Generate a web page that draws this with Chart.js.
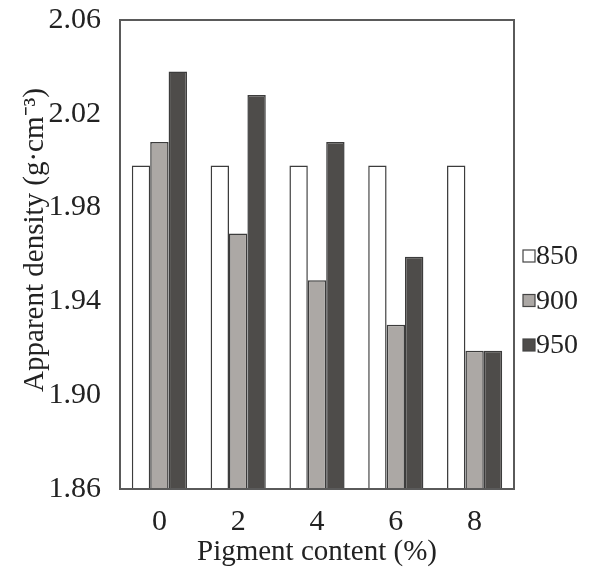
<!DOCTYPE html>
<html>
<head>
<meta charset="utf-8">
<script src="https://cdn.jsdelivr.net/npm/chart.js@4/dist/chart.umd.min.js"></script>
<style>
  html, body { margin: 0; padding: 0; background: #fff; }
  #wrap { width: 595px; height: 571px; }
</style>
</head>
<body>
<div id="wrap"><canvas id="densityChart" width="595" height="571"></canvas></div>
<script>
// pigment content categories (%)
var categories = ['0', '2', '4', '6', '8'];
// series: sintering temperature
var seriesNames = ['850', '900', '950'];
var s850 = [1.998, 1.998, 1.998, 1.998, 1.998];
var s900 = [2.008, 1.969, 1.949, 1.930, 1.919];
var s950 = [2.038, 2.028, 2.008, 1.959, 1.919];
var yTicks = [1.86, 1.90, 1.94, 1.98, 2.02, 2.06];

var fills = ['#ffffff', '#aca8a5', '#4e4c4a'];
var serif = '"Liberation Serif", "Times New Roman", serif';

// frame around the plot area
var framePlugin = {
    id: 'frame',
    afterDatasetsDraw: function (chart) {
        var a = chart.chartArea, ctx = chart.ctx;
        ctx.save();
        ctx.strokeStyle = '#5a5a5a';
        ctx.lineWidth = 2;
        ctx.strokeRect(a.left, a.top, a.right - a.left, a.bottom - a.top);
        ctx.restore();
    }
};

// small legend on the right, box tight against the label
var sideLegend = {
    id: 'sideLegend',
    afterDraw: function (chart) {
        var ctx = chart.ctx;
        var x = chart.chartArea.right + 9;
        var y0 = 256, gap = 44.5;
        ctx.save();
        ctx.font = '28px ' + serif;
        ctx.textBaseline = 'middle';
        chart.data.datasets.forEach(function (ds, i) {
            var y = y0 + i * gap;
            ctx.fillStyle = ds.backgroundColor;
            ctx.fillRect(x, y - 6, 12, 12);
            ctx.strokeStyle = '#444';
            ctx.lineWidth = 1.2;
            ctx.strokeRect(x, y - 6, 12, 12);
            ctx.fillStyle = '#222';
            ctx.fillText(ds.label, x + 13, y + 1);
        });
        ctx.restore();
    }
};

var datasets = [s850, s900, s950].map(function (vals, i) {
    return {
        label: seriesNames[i],
        data: vals,
        backgroundColor: fills[i],
        borderColor: '#3c3c3c',
        borderWidth: 1.5,
        barPercentage: 1,
        categoryPercentage: 0.7
    };
});

var ctx = document.getElementById('densityChart').getContext('2d');
var densityChart = new Chart(ctx, {
    type: 'bar',
    data: { labels: categories, datasets: datasets },
    options: {
        responsive: false,
        animation: false,
        layout: { padding: { top: 0, right: 81, bottom: 0, left: 0 } },
        scales: {
            x: {
                grid: { display: false, drawTicks: false },
                border: { display: false },
                ticks: { color: '#222', padding: 15, font: { family: serif, size: 30 } },
                title: {
                    display: true,
                    text: 'Pigment content (%)',
                    color: '#222',
                    font: { family: serif, size: 29 },
                    padding: { top: 0, bottom: 1 }
                },
                afterFit: function (scale) { scale.height = 82; }
            },
            y: {
                min: yTicks[0],
                max: yTicks[yTicks.length - 1],
                grid: { display: false, drawTicks: false },
                border: { display: false },
                afterBuildTicks: function (scale) {
                    scale.ticks = yTicks.map(function (v) { return { value: v }; });
                },
                ticks: {
                    color: '#222',
                    padding: 19,
                    font: { family: serif, size: 30 },
                    callback: function (v) { return Number(v).toFixed(2); }
                },
                title: {
                    display: true,
                    // leading spaces nudge the rotated title upward like the original
                    text: '    Apparent density (g·cm⁻³)',
                    color: '#222',
                    font: { family: serif, size: 29 },
                    padding: { top: 18, bottom: 0 }
                },
                afterFit: function (scale) {
                    scale.width = 120;
                    scale.paddingTop = 20;
                    scale.paddingBottom = 0;
                }
            }
        },
        plugins: {
            legend: { display: false },
            tooltip: { enabled: false }
        }
    },
    plugins: [framePlugin, sideLegend]
});
</script>
</body>
</html>
